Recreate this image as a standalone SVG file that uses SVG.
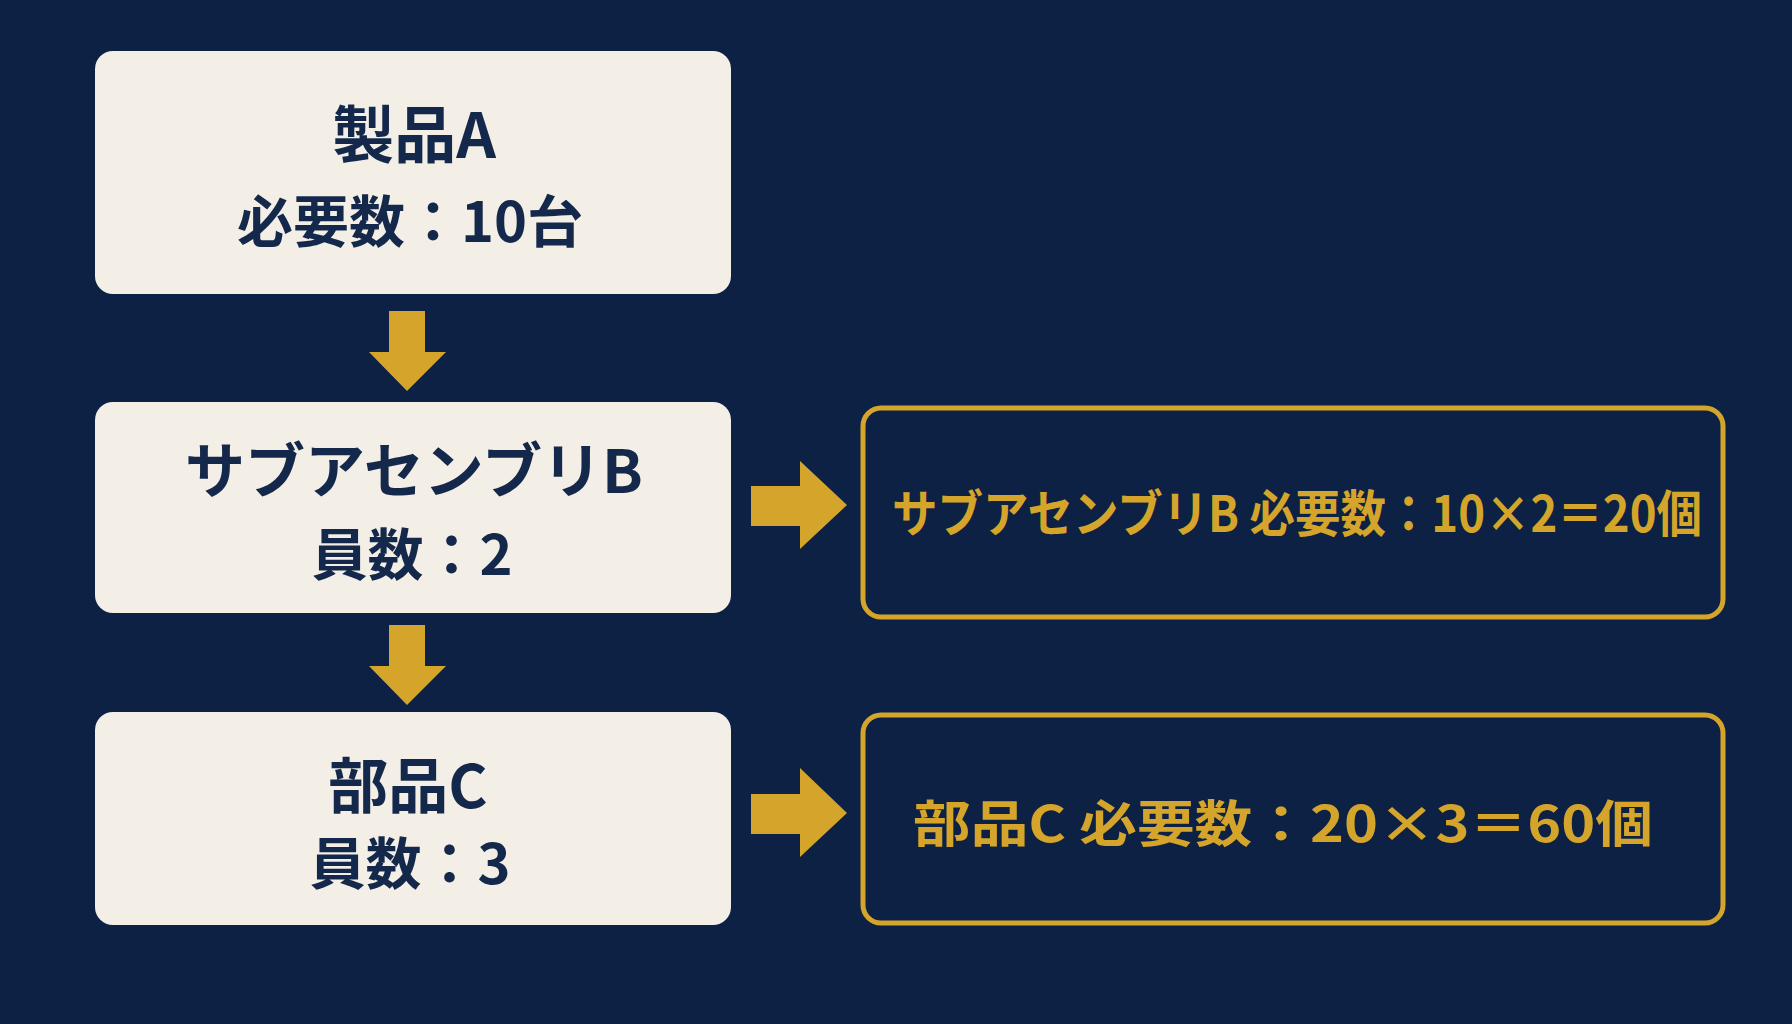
<svg xmlns="http://www.w3.org/2000/svg" width="1792" height="1024" viewBox="0 0 1792 1024">
<style>
.box{fill:#f3efe6}
.gbox{fill:none;stroke:#d4a52a;stroke-width:5}
.arr{fill:#d4a52a}
.t{font-family:"Noto Sans CJK JP",sans-serif;font-weight:700;fill:#13284a;text-anchor:middle}
.g{font-family:"Noto Sans CJK JP",sans-serif;font-weight:700;fill:#d4a52a;text-anchor:middle;font-size:50px}
</style>
<rect width="1792" height="1024" fill="#0d2145"/>
<g id="nodeA"><rect class="box" x="95" y="51" width="636" height="243" rx="18"/>
<text class="t" x="414" y="158" font-size="62">製品A</text>
<text class="t" x="410" y="242" font-size="56">必要数：10台</text></g>
<g id="nodeB"><rect class="box" x="95" y="402" width="636" height="211" rx="18"/>
<text class="t" x="414" y="493" font-size="60">サブアセンブリB</text>
<text class="t" x="412" y="575" font-size="56">員数：2</text></g>
<g id="nodeC"><rect class="box" x="95" y="712" width="636" height="213" rx="18"/>
<text class="t" x="408" y="808" font-size="60">部品C</text>
<text class="t" x="410" y="884" font-size="56">員数：3</text></g>
<g id="resultB"><rect class="gbox" x="863" y="408" width="860" height="209" rx="18"/>
<text class="g" x="1297" y="532" textLength="810" lengthAdjust="spacingAndGlyphs">サブアセンブリB 必要数：10×2＝20個</text></g>
<g id="resultC"><rect class="gbox" x="863" y="715" width="860" height="208" rx="18"/>
<text class="g" x="1283" y="842" font-size="54" textLength="740" lengthAdjust="spacingAndGlyphs">部品C 必要数：20×3＝60個</text></g>
<g id="connectors">
<polygon class="arr" points="389,311 425,311 425,352 446,352 407,391 369,352 389,352"/>
<polygon class="arr" points="389,625 425,625 425,666 446,666 407,705 369,666 389,666"/>
<polygon class="arr" points="751,486 800,486 800,461 847,505 800,549 800,526 751,526"/>
<polygon class="arr" points="751,794 800,794 800,768 847,813 800,857 800,834 751,834"/>
</g>
</svg>
